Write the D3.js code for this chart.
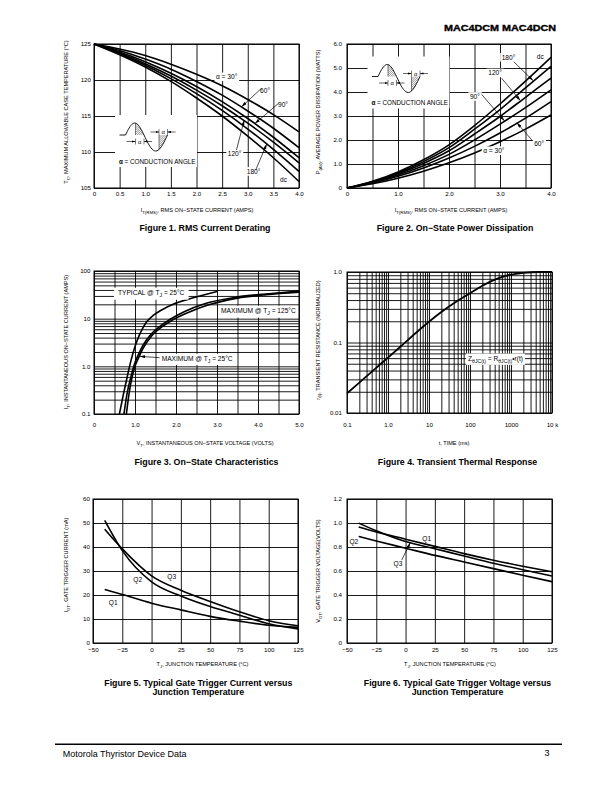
<!DOCTYPE html>
<html><head><meta charset="utf-8">
<script src="https://cdn.jsdelivr.net/npm/d3@7"></script>
<style>
body{margin:0;background:#fff}
svg{display:block}
text{font-family:"Liberation Sans",Arial,Helvetica,sans-serif;fill:#000}
</style>
</head><body><script>
// ---------------- DATA ----------------
// Figure 1: RMS current derating (Tc vs IT(RMS))
const fig1Current = [0,0.5,1.0,1.5,2.0,2.5,3.0,3.5,4.0];
const fig1Tc30  = [125,124.3,123.4,122.2,120.8,119.2,117.3,115.2,112.8];
const fig1Tc60  = [125,124.1,122.9,121.5,119.8,117.9,115.7,113.3,110.6];
const fig1Tc90  = [125,123.9,122.55,120.95,119.1,117.0,114.65,112.05,109.2];
const fig1Tc120 = [125,123.75,122.26,120.55,118.6,116.43,114.01,111.37,108.5];
const fig1Tc180 = [125,123.64,122.04,120.19,118.1,115.77,113.19,110.37,107.3];
const fig1TcDC  = [125,123.5,121.8,119.8,117.5,115.0,112.2,109.2,105.9];
const fig1XTicks = [0,0.5,1.0,1.5,2.0,2.5,3.0,3.5,4.0];
const fig1XTickLabels = ["0","0.5","1.0","1.5","2.0","2.5","3.0","3.5","4.0"];
const fig1YTicks = [105,110,115,120,125];
const fig1YTickLabels = ["105","110","115","120","125"];

// Figure 2: on-state power dissipation (P vs IT(RMS))
const fig2Current = [0,0.5,1.0,1.5,2.0,2.5,3.0,3.5,4.0];
const fig2P30  = [0,0.174,0.408,0.699,1.05,1.459,1.928,2.454,3.04];
const fig2P60  = [0,0.209,0.488,0.834,1.25,1.734,2.29,2.91,3.6];
const fig2P90  = [0,0.229,0.539,0.929,1.4,2.0,2.66,3.35,4.09];
const fig2P120 = [0,0.249,0.59,1.024,1.55,2.25,2.98,3.78,4.58];
const fig2P180 = [0,0.26,0.626,1.10,1.68,2.45,3.27,4.17,5.07];
const fig2PDC  = [0,0.278,0.67,1.178,1.8,2.6,3.5,4.45,5.44];
const fig2XGrid = [0,0.5,1.0,1.5,2.0,2.5,3.0,3.5,4.0];
const fig2XTicks = [0,1,2,3,4];
const fig2XTickLabels = ["0","1.0","2.0","3.0","4.0"];
const fig2YTicks = [0,1,2,3,4,5,6];
const fig2YTickLabels = ["0","1.0","2.0","3.0","4.0","5.0","6.0"];

// Figure 3: on-state characteristics (IT vs VT)
const fig3TypV = [0.62,0.7,0.8,0.9,1.0,1.1,1.2,1.3,1.45,1.65,1.93,2.4,3.0];
const fig3TypI = [0.1,0.22,0.55,1.3,2.6,4.4,6.6,8.9,11.8,15.2,20,27,37];
const fig3Max125V = [0.73,0.8,0.9,1.0,1.1,1.2,1.4,1.6,1.85,2.2,2.7,3.5,4.2,5.0];
const fig3Max125I = [0.1,0.25,0.6,1.2,1.9,2.8,4.8,6.8,9.6,14,20.5,28.5,33,38];
const fig3Max25V = [0.79,0.85,0.9,1.0,1.1,1.2,1.4,1.6,1.9,2.3,2.8,3.5,4.2,5.0];
const fig3Max25I = [0.1,0.25,0.45,1.0,1.6,2.4,4.3,6.2,9.2,13.5,19.5,27,32,36];
const fig3XTicks = [0,1,2,3,4,5];
const fig3XTickLabels = ["0","1.0","2.0","3.0","4.0","5.0"];
const fig3YTicks = [0.1,1,10,100];
const fig3YTickLabels = ["0.1","1.0","10","100"];

// Figure 4: transient thermal response (r(t) vs t)
const fig4Time = [0.1,0.2,0.5,1,2,5,10,20,50,100,200,500,1000,2000,5000,10000];
const fig4R    = [0.019,0.027,0.043,0.061,0.087,0.14,0.197,0.27,0.39,0.50,0.64,0.82,0.92,0.97,1.0,1.0];
const fig4XTicks = [0.1,1,10,100,1000,10000];
const fig4XTickLabels = ["0.1","1.0","10","100","1000","10 k"];
const fig4YTicks = [0.01,0.1,1];
const fig4YTickLabels = ["0.01","0.1","1.0"];

// Figure 5: gate trigger current vs junction temperature
const fig5Temp = [-40,-25,0,25,50,75,100,125];
const fig5Q1 = [22.3,20.2,16.6,13.8,11.1,9.1,7.4,6.5];
const fig5Q2 = [51.1,38.5,25.5,19.6,15.2,11.6,8.0,5.9];
const fig5Q3 = [47.4,39.2,28.0,22.0,17.3,13.0,9.3,7.2];
const fig5XTicks = [-50,-25,0,25,50,75,100,125];
const fig5XTickLabels = ["\u221250","\u221225","0","25","50","75","100","125"];
const fig5YTicks = [0,10,20,30,40,50,60];
const fig5YTickLabels = ["0","10","20","30","40","50","60"];

// Figure 6: gate trigger voltage vs junction temperature
const fig6Temp = [-40,-25,0,25,50,75,100,125];
const fig6Q1 = [0.966,0.925,0.865,0.805,0.745,0.69,0.64,0.594];
const fig6Q2 = [0.888,0.85,0.79,0.73,0.675,0.62,0.565,0.511];
const fig6Q3 = [0.999,0.935,0.845,0.785,0.725,0.665,0.61,0.558];
const fig6XTicks = [-50,-25,0,25,50,75,100,125];
const fig6XTickLabels = ["\u221250","\u221225","0","25","50","75","100","125"];
const fig6YTicks = [0,0.2,0.4,0.6,0.8,1.0,1.2];
const fig6YTickLabels = ["0","0.2","0.4","0.6","0.8","1.0","1.2"];

// ---------------- DRAWING ----------------
const W = 612, H = 792;
const svg = d3.select("body").append("svg").attr("width", W).attr("height", H);
svg.append("rect").attr("width", W).attr("height", H).attr("fill", "#fff");
const defs = svg.append("defs");
function marker(id, w, h) {
  defs.append("marker").attr("id", id).attr("viewBox", "0 0 10 6").attr("refX", 10).attr("refY", 3)
    .attr("markerWidth", w).attr("markerHeight", h).attr("markerUnits", "userSpaceOnUse").attr("orient", "auto")
    .append("path").attr("d", "M0,0L10,3L0,6Z").attr("fill", "#000");
}
marker("arr", 5.5, 3.2);
marker("arrS", 3.5, 2.2);
defs.append("pattern").attr("id", "hatch").attr("patternUnits", "userSpaceOnUse")
  .attr("width", 1.5).attr("height", 1.5).attr("patternTransform", "rotate(45)")
  .append("line").attr("x1", 0).attr("y1", 0).attr("x2", 0).attr("y2", 1.5)
  .attr("stroke", "#000").attr("stroke-width", 0.6);

const TICK_FS = 6.2, TITLE_FS = 5.6, CAP_FS = 8.8, LAB_FS = 6.6;

function rich(g, x, y, segs, fs, opts = {}) {
  const t = g.append("text").attr("x", x).attr("y", y).attr("font-size", fs)
    .attr("text-anchor", opts.anchor || "start");
  if (opts.rotate) t.attr("transform", `rotate(-90,${x},${y})`);
  if (opts.weight) t.attr("font-weight", opts.weight);
  let shifted = false;
  segs.forEach(s => {
    const sub = s.startsWith("_");
    const txt = sub ? s.slice(1) : s;
    const sp = t.append("tspan").text(txt);
    if (sub) {
      sp.attr("font-size", fs * 0.78);
      if (!shifted) { sp.attr("dy", fs * 0.3); shifted = true; }
    } else if (shifted) { sp.attr("dy", -fs * 0.3); shifted = false; }
  });
  return t;
}

function label(g, x, y, segs, fs, padX = 1.5, padY = 0.8, bg = true) {
  const lg = g.append("g");
  const t = rich(lg, x, y, segs, fs);
  if (bg) {
    const b = t.node().getBBox();
    lg.insert("rect", "text").attr("x", b.x - padX).attr("y", b.y - padY)
      .attr("width", b.width + 2 * padX).attr("height", b.height + 2 * padY).attr("fill", "#fff");
  }
  return lg;
}

function panel(cfg) {
  const [x0, x1, y0, y1] = cfg.box;
  const g = svg.append("g");
  const x = (cfg.xLog ? d3.scaleLog() : d3.scaleLinear()).domain(cfg.xDomain).range([x0, x1]);
  const y = (cfg.yLog ? d3.scaleLog() : d3.scaleLinear()).domain(cfg.yDomain).range([y1, y0]);
  const gx = g.append("g").attr("transform", `translate(0,${y1})`)
    .call(d3.axisBottom(x).tickValues(cfg.xGrid).tickSize(-(y1 - y0)).tickFormat(""));
  const gy = g.append("g").attr("transform", `translate(${x0},0)`)
    .call(d3.axisLeft(y).tickValues(cfg.yGrid).tickSize(-(x1 - x0)).tickFormat(""));
  [gx, gy].forEach(a => {
    a.select(".domain").remove();
    a.selectAll("line").attr("stroke", "#000").attr("stroke-width", 0.9);
  });
  const ax = g.append("g").attr("transform", `translate(0,${y1})`)
    .call(d3.axisBottom(x).tickValues(cfg.xTicks).tickFormat((d, i) => cfg.xTickLabels[i]).tickSize(0).tickPadding(cfg.xPad));
  const ay = g.append("g").attr("transform", `translate(${x0},0)`)
    .call(d3.axisLeft(y).tickValues(cfg.yTicks).tickFormat((d, i) => cfg.yTickLabels[i]).tickSize(0).tickPadding(cfg.yPad || 4));
  [ax, ay].forEach(a => {
    a.select(".domain").remove();
    a.attr("font-size", TICK_FS).attr("font-family", '"Liberation Sans",Arial,sans-serif');
    a.selectAll("text").attr("fill", "#000");
  });
  const layer = g.append("g");
  const front = g.append("g");
  g.append("rect").attr("x", x0).attr("y", y0).attr("width", x1 - x0).attr("height", y1 - y0)
    .attr("fill", "none").attr("stroke", "#000").attr("stroke-width", 1);
  rich(g, cfg.yTitleX, cfg.yTitleY, cfg.yTitle, TITLE_FS, { anchor: "middle", rotate: true });
  rich(g, cfg.xTitleX, cfg.xTitleY, cfg.xTitle, TITLE_FS, { anchor: "middle" });
  cfg.caption.forEach((c, i) => {
    g.append("text").attr("x", cfg.capX).attr("y", cfg.capY + i * 9).attr("text-anchor", "middle")
      .attr("font-size", CAP_FS).attr("font-weight", "bold").text(c);
  });
  return { g, x, y, layer, front };
}

function curve(p, xs, ys, w = 1.6) {
  const pts = xs.map((d, i) => [d, ys[i]]);
  p.layer.append("path")
    .attr("d", d3.line().x(d => p.x(d[0])).y(d => p.y(d[1])).curve(d3.curveMonotoneX)(pts))
    .attr("fill", "none").attr("stroke", "#000").attr("stroke-width", w).attr("stroke-linejoin", "round");
}
function arrow(p, from, to) {
  p.front.append("line").attr("x1", p.x(from[0])).attr("y1", p.y(from[1]))
    .attr("x2", p.x(to[0])).attr("y2", p.y(to[1]))
    .attr("stroke", "#000").attr("stroke-width", 0.7).attr("marker-end", "url(#arr)");
}
function plabel(p, at, segs, bg = true, anchor) {
  const lg = label(p.front, p.x(at[0]), p.y(at[1]), segs, LAB_FS, 1.5, 0.8, false);
  if (anchor) lg.select("text").attr("text-anchor", anchor);
  if (bg) {
    const b = lg.select("text").node().getBBox();
    lg.insert("rect", "text").attr("x", b.x - 1.5).attr("y", b.y - 0.8)
      .attr("width", b.width + 3).attr("height", b.height + 1.6).attr("fill", "#fff");
  }
  return lg;
}

// conduction-angle inset sketch (annotation)
function inset(g, ax, ay) {
  g.append("rect").attr("x", ax - 4.5).attr("y", ay - 20).attr("width", 82).attr("height", 52).attr("fill", "#fff");
  const posL = ax + 6, posR = ax + 24.5, negR = ax + 48;
  const pos = t => [posL + t * (posR - posL), ay - 12 * Math.sin(Math.PI * t)];
  const neg = t => [posR + t * (negR - posR), ay + 16 * Math.sin(Math.PI * t)];
  const ts = d3.range(0, 1.0001, 0.05);
  const line = d3.line();
  const shP = d3.range(0.54, 1.0001, 0.02).map(pos);
  const shN = d3.range(0.638, 1.0001, 0.02).map(neg);
  g.append("path").attr("d", line([...shP, [posR, ay], [shP[0][0], ay]]) + "Z").attr("fill", "url(#hatch)").attr("stroke", "none");
  g.append("path").attr("d", line([...shN, [negR, ay], [shN[0][0], ay]]) + "Z").attr("fill", "url(#hatch)").attr("stroke", "none");
  g.append("line").attr("x1", shP[0][0]).attr("x2", shP[0][0]).attr("y1", ay).attr("y2", shP[0][1]).attr("stroke", "#000").attr("stroke-width", 0.5);
  g.append("line").attr("x1", shN[0][0]).attr("x2", shN[0][0]).attr("y1", ay).attr("y2", shN[0][1]).attr("stroke", "#000").attr("stroke-width", 0.5);
  g.append("path").attr("d", line([[ax, ay], ...ts.map(pos), ...ts.map(neg)]))
    .attr("fill", "none").attr("stroke", "#000").attr("stroke-width", 0.9);
  const dim = (yy, a, b, from, to) => {
    g.append("line").attr("x1", from).attr("x2", a).attr("y1", yy).attr("y2", yy).attr("stroke", "#000").attr("stroke-width", 0.6).attr("marker-end", "url(#arrS)");
    g.append("line").attr("x1", to).attr("x2", b).attr("y1", yy).attr("y2", yy).attr("stroke", "#000").attr("stroke-width", 0.6).attr("marker-end", "url(#arrS)");
    [a, b].forEach(v => g.append("line").attr("x1", v).attr("x2", v).attr("y1", yy - 3).attr("y2", yy + 3).attr("stroke", "#000").attr("stroke-width", 0.5));
    g.append("text").attr("x", (a + b) / 2).attr("y", yy + 2).attr("text-anchor", "middle").attr("font-size", 5.8).text("\u03b1");
  };
  dim(ay + 6.5, ax + 16, ax + 24.5, ax + 7, ax + 32.5);
  dim(ay - 3, ax + 39.5, ax + 48, ax + 31, ax + 56);
  const t = g.append("text").attr("x", ax - 0.5).attr("y", ay + 28.5).attr("font-size", 6.3);
  t.append("tspan").attr("font-weight", "bold").text("\u03b1");
  t.append("tspan").text(" = CONDUCTION ANGLE");
}

// ---- Figure 1 ----
const p1 = panel({
  box: [94, 299, 44, 188], xDomain: [0, 4], yDomain: [105, 125],
  xGrid: fig1XTicks, yGrid: fig1YTicks, xTicks: fig1XTicks, xTickLabels: fig1XTickLabels,
  yTicks: fig1YTicks, yTickLabels: fig1YTickLabels, xPad: 4, yPad: 3,
  yTitle: ["T", "_C", ", MAXIMUM ALLOWABLE CASE TEMPERATURE (\u00b0C)"], yTitleX: 68, yTitleY: 112,
  xTitle: ["I", "_T(RMS)", ", RMS ON\u2212STATE CURRENT (AMPS)"], xTitleX: 197, xTitleY: 212,
  caption: ["Figure 1. RMS Current Derating"], capX: 205, capY: 231
});
inset(p1.layer, 119.5, 135);
[fig1Tc30, fig1Tc60, fig1Tc90, fig1Tc120, fig1Tc180, fig1TcDC].forEach(s => curve(p1, fig1Current, s));
plabel(p1, [2.38, 120.1], ["\u03b1 = 30\u00b0"]);
plabel(p1, [3.24, 118.17], ["60\u00b0"]);
plabel(p1, [3.59, 116.2], ["90\u00b0"]);
plabel(p1, [2.61, 109.5], ["120\u00b0"]);
plabel(p1, [2.98, 106.96], ["180\u00b0"]);
plabel(p1, [3.63, 105.8], ["dc"]);
arrow(p1, [3.27, 118.85], [2.88, 116.3]);
arrow(p1, [3.60, 116.76], [3.14, 113.95]);
arrow(p1, [2.78, 110.28], [2.93, 114.4]);
arrow(p1, [3.155, 107.5], [3.37, 111.1]);

// ---- Figure 2 ----
const p2 = panel({
  box: [347, 551, 44, 188], xDomain: [0, 4], yDomain: [0, 6],
  xGrid: fig2XGrid, yGrid: fig2YTicks, xTicks: fig2XTicks, xTickLabels: fig2XTickLabels,
  yTicks: fig2YTicks, yTickLabels: fig2YTickLabels, xPad: 4, yPad: 5,
  yTitle: ["P", "_(AV)", ", AVERAGE POWER DISSIPATION (WATTS)"], yTitleX: 320, yTitleY: 112,
  xTitle: ["I", "_T(RMS)", ", RMS ON\u2212STATE CURRENT (AMPS)"], xTitleX: 451, xTitleY: 212,
  caption: ["Figure 2. On\u2212State Power Dissipation"], capX: 455, capY: 231
});
inset(p2.layer, 372, 76.5);
[fig2P30, fig2P60, fig2P90, fig2P120, fig2P180, fig2PDC].forEach(s => curve(p2, fig2Current, s));
plabel(p2, [3.033, 5.34], ["180\u00b0"]);
plabel(p2, [3.72, 5.38], ["dc"]);
plabel(p2, [2.77, 4.69], ["120\u00b0"]);
plabel(p2, [2.41, 3.71], ["90\u00b0"]);
plabel(p2, [3.67, 1.77], ["60\u00b0"]);
plabel(p2, [2.67, 1.45], ["\u03b1 = 30\u00b0"]);
arrow(p2, [3.27, 5.26], [3.647, 4.48]);
arrow(p2, [3.033, 4.57], [3.40, 3.64]);
arrow(p2, [2.64, 3.9], [3.085, 2.80]);
arrow(p2, [3.64, 1.96], [3.33, 2.72]);

// ---- Figure 3 ----
const logGrid = (lo, hi) => {
  const out = [];
  for (let d = lo; d < hi * 0.999; d *= 10) for (let k = 1; k <= 9; k++) out.push(+(d * k).toPrecision(3));
  out.push(hi);
  return out;
};
const p3 = panel({
  box: [94, 299, 271, 414], xDomain: [0, 5], yDomain: [0.1, 100], yLog: true,
  xGrid: d3.range(0, 5.01, 0.5), yGrid: logGrid(0.1, 100), xTicks: fig3XTicks, xTickLabels: fig3XTickLabels,
  yTicks: fig3YTicks, yTickLabels: fig3YTickLabels, xPad: 8.3, yPad: 3.5,
  yTitle: ["I", "_T", ", INSTANTANEOUS ON\u2212STATE CURRENT (AMPS)"], yTitleX: 68, yTitleY: 342,
  xTitle: ["V", "_T", ", INSTANTANEOUS ON\u2212STATE VOLTAGE (VOLTS)"], xTitleX: 205, xTitleY: 445,
  caption: ["Figure 3. On\u2212State Characteristics"], capX: 206.5, capY: 464.5
});
curve(p3, fig3TypV, fig3TypI);
curve(p3, fig3Max125V, fig3Max125I);
curve(p3, fig3Max25V, fig3Max25I);
label(p3.front, p3.x(0.585), p3.y(31), ["TYPICAL @ T", "_J", " = 25\u00b0C"], LAB_FS, 4, 1.5);
label(p3.front, p3.x(3.1), p3.y(13), ["MAXIMUM @ T", "_J", " = 125\u00b0C"], LAB_FS, 3, 1.5);
label(p3.front, p3.x(1.65), p3.y(1.3), ["MAXIMUM @ T", "_J", " = 25\u00b0C"], LAB_FS, 2, 1.2);
arrow(p3, [1.6, 1.52], [1.12, 1.62]);

// ---- Figure 4 ----
const p4 = panel({
  box: [347, 552, 272, 413], xDomain: [0.1, 10000], yDomain: [0.01, 1], xLog: true, yLog: true,
  xGrid: logGrid(0.1, 10000), yGrid: logGrid(0.01, 1), xTicks: fig4XTicks, xTickLabels: fig4XTickLabels,
  yTicks: fig4YTicks, yTickLabels: fig4YTickLabels, xPad: 9.2, yPad: 5,
  yTitle: ["r", "_(t)", ", TRANSIENT RESISTANCE (NORMALIZED)"], yTitleX: 319.5, yTitleY: 340,
  xTitle: ["t, TIME (ms)"], xTitleX: 454, xTitleY: 445,
  caption: ["Figure 4. Transient Thermal Response"], capX: 457.5, capY: 464.5
});
curve(p4, fig4Time, fig4R, 1.8);
label(p4.front, p4.x(89.4), p4.y(0.0552), ["Z", "_\u03b8JC(t)", " = R", "_\u03b8JC(t)", "\u2022r(t)"], LAB_FS, 2, 1.2);

// ---- Figure 5 ----
const p5 = panel({
  box: [93, 298, 499, 643], xDomain: [-50, 125], yDomain: [0, 60],
  xGrid: fig5XTicks, yGrid: fig5YTicks, xTicks: fig5XTicks, xTickLabels: fig5XTickLabels,
  yTicks: fig5YTicks, yTickLabels: fig5YTickLabels, xPad: 4.2, yPad: 3,
  yTitle: ["I", "_GT", ", GATE TRIGGER CURRENT (mA)"], yTitleX: 68, yTitleY: 565,
  xTitle: ["T", "_J", ", JUNCTION TEMPERATURE (\u00b0C)"], xTitleX: 202.5, xTitleY: 666,
  caption: ["Figure 5. Typical Gate Trigger Current versus", "Junction Temperature"], capX: 198.3, capY: 686
});
[fig5Q1, fig5Q2, fig5Q3].forEach(s => curve(p5, fig5Temp, s));
plabel(p5, [-11.8, 25.3], ["Q2"], false, "middle");
plabel(p5, [17.2, 26.5], ["Q3"], false, "middle");
plabel(p5, [-32.7, 15.9], ["Q1"], false, "middle");

// ---- Figure 6 ----
const p6 = panel({
  box: [347, 552, 499, 643], xDomain: [-50, 125], yDomain: [0, 1.2],
  xGrid: fig6XTicks, yGrid: fig6YTicks, xTicks: fig6XTicks, xTickLabels: fig6XTickLabels,
  yTicks: fig6YTicks, yTickLabels: fig6YTickLabels, xPad: 4.2, yPad: 5,
  yTitle: ["V", "_GT", ", GATE TRIGGER VOLTAGE(VOLTS)"], yTitleX: 320, yTitleY: 571,
  xTitle: ["T", "_J", ", JUNCTION TEMPERATURE (\u00b0C)"], xTitleX: 450, xTitleY: 666,
  caption: ["Figure 6. Typical Gate Trigger Voltage versus", "Junction Temperature"], capX: 457.5, capY: 686
});
[fig6Q1, fig6Q2, fig6Q3].forEach(s => curve(p6, fig6Temp, s));
plabel(p6, [18.0, 0.846], ["Q1"], false, "middle");
plabel(p6, [-44.2, 0.826], ["Q2"], false, "middle");
plabel(p6, [-6.5, 0.64], ["Q3"], false, "middle");
arrow(p6, [-3.3, 0.692], [4, 0.835]);

// ---- header / footer ----
svg.append("text").attr("x", 556).attr("y", 31.3).attr("text-anchor", "end")
  .attr("font-family", '"DejaVu Sans",sans-serif').attr("font-weight", "bold").attr("font-size", 9)
  .attr("stroke", "#000").attr("stroke-width", 0.35)
  .attr("textLength", 112).attr("lengthAdjust", "spacingAndGlyphs").text("MAC4DCM MAC4DCN");
svg.append("line").attr("x1", 55).attr("x2", 562).attr("y1", 744.3).attr("y2", 744.3)
  .attr("stroke", "#000").attr("stroke-width", 1.4);
svg.append("text").attr("x", 62.7).attr("y", 756.5).attr("font-size", 9).text("Motorola Thyristor Device Data");
svg.append("text").attr("x", 549.5).attr("y", 755.5).attr("text-anchor", "end").attr("font-size", 9).text("3");
</script></body></html>
